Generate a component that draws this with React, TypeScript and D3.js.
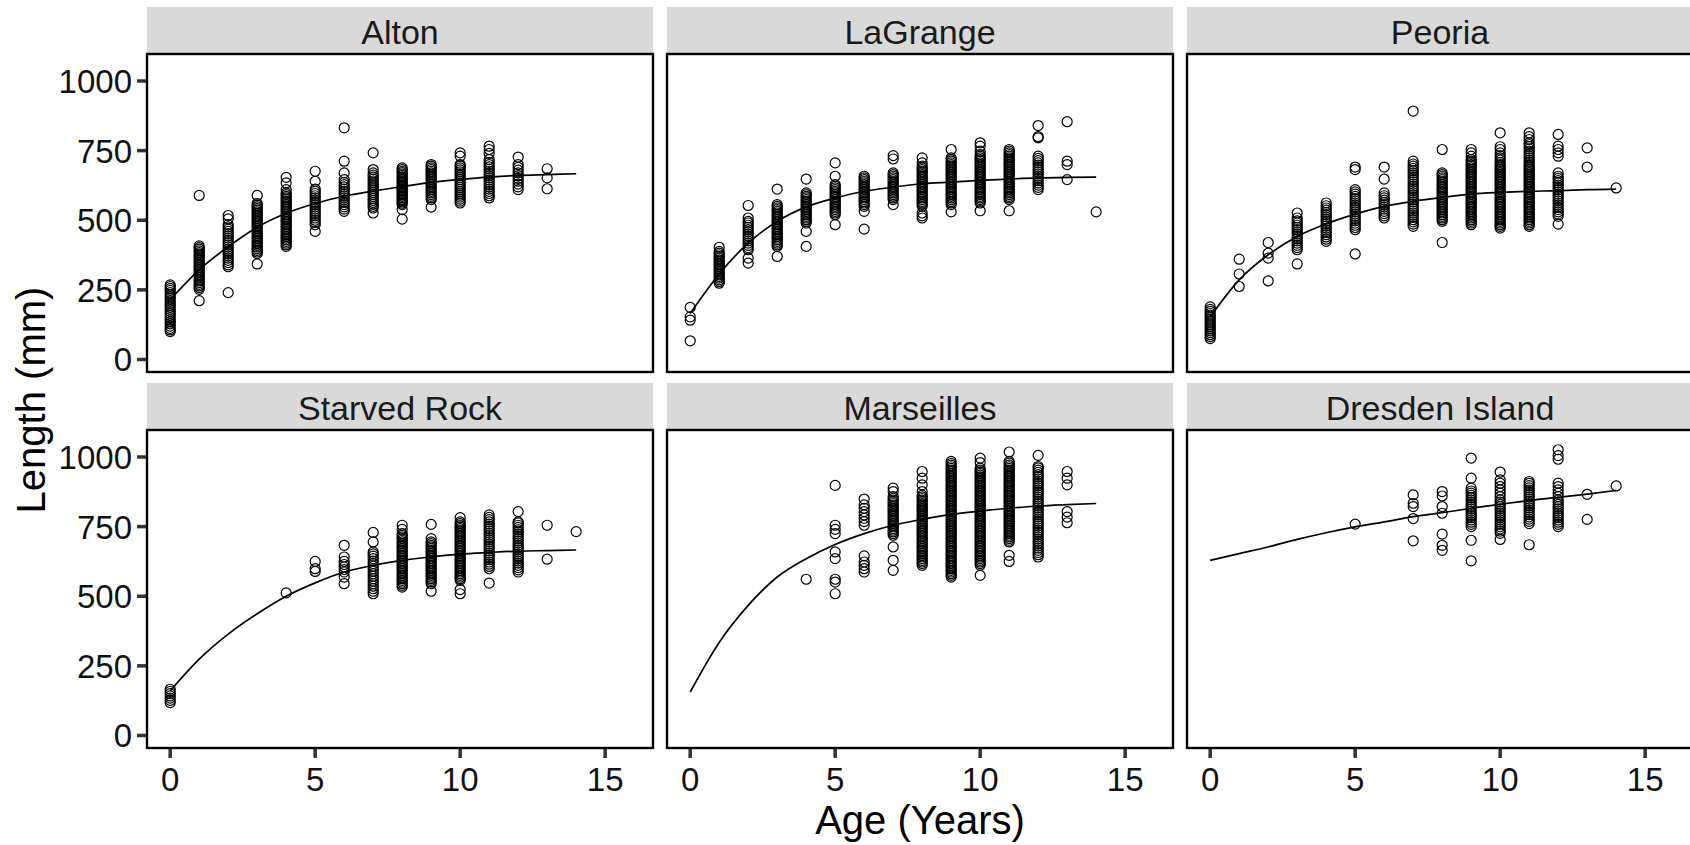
import * as d3 from 'd3';

// facet titles, in panel order (row by row)
const sites = ['Alton', 'LaGrange', 'Peoria', 'Starved Rock', 'Marseilles', 'Dresden Island'];

const xTicks = [0, 5, 10, 15];
const yTicks = [0, 250, 500, 750, 1000];

// observed lengths (mm) by age (years)
const altonObs: [number, number[]][] = [
  [0, [100, 106, 112, 120, 128, 135, 142, 150, 158, 165, 172, 180, 188, 195, 202, 210, 218, 225, 232, 240, 248, 255, 262, 268]],
  [1, [211, 252, 258, 264, 270, 276, 282, 288, 294, 300, 306, 312, 318, 324, 330, 336, 342, 348, 354, 360, 366, 372, 378, 384, 390, 396, 402, 408, 589]],
  [2, [240, 333, 340, 348, 356, 364, 372, 380, 388, 396, 404, 412, 420, 428, 436, 444, 452, 460, 468, 476, 484, 505, 517]],
  [3, [343, 380, 386, 392, 398, 404, 410, 416, 422, 428, 434, 440, 446, 452, 458, 464, 470, 476, 482, 488, 494, 500, 506, 512, 518, 524, 530, 536, 542, 548, 554, 560, 589]],
  [4, [406, 412, 418, 424, 430, 436, 442, 448, 454, 460, 466, 472, 478, 484, 490, 496, 502, 508, 514, 520, 526, 532, 538, 544, 550, 556, 562, 568, 574, 580, 586, 592, 598, 610, 634, 654]],
  [5, [460, 484, 492, 500, 508, 516, 524, 532, 540, 548, 556, 564, 572, 580, 588, 596, 604, 612, 640, 676]],
  [6, [532, 540, 548, 556, 564, 572, 580, 588, 596, 604, 612, 620, 628, 636, 646, 670, 712, 832]],
  [7, [526, 544, 550, 557, 564, 571, 578, 585, 592, 599, 606, 613, 620, 627, 634, 641, 648, 655, 662, 670, 682, 742]],
  [8, [504, 538, 556, 561, 566, 571, 576, 581, 586, 591, 596, 601, 606, 611, 616, 621, 626, 631, 636, 641, 646, 651, 656, 661, 666, 671, 676, 682, 688]],
  [9, [547, 574, 580, 586, 592, 598, 604, 610, 616, 622, 628, 634, 640, 646, 652, 658, 664, 670, 676, 682, 688, 694, 700]],
  [10, [562, 569, 576, 583, 590, 597, 604, 611, 618, 625, 632, 639, 646, 653, 660, 667, 674, 681, 688, 695, 700, 730, 742]],
  [11, [580, 588, 596, 604, 612, 620, 628, 636, 644, 652, 660, 668, 676, 684, 692, 700, 708, 718, 740, 754, 766]],
  [12, [610, 620, 630, 640, 650, 660, 670, 680, 690, 700, 727]],
  [13, [613, 652, 685]],
];

const laGrangeObs: [number, number[]][] = [
  [0, [67, 141, 153, 187]],
  [1, [274, 280, 286, 292, 298, 304, 310, 316, 322, 328, 334, 340, 346, 352, 358, 364, 370, 376, 382, 388, 403]],
  [2, [346, 364, 394, 402, 410, 418, 426, 434, 442, 450, 458, 466, 474, 482, 490, 496, 508, 553]],
  [3, [370, 406, 412, 418, 424, 430, 436, 442, 448, 454, 460, 466, 472, 478, 484, 490, 496, 502, 508, 514, 520, 526, 532, 538, 544, 550, 556, 612]],
  [4, [406, 460, 490, 496, 502, 508, 514, 520, 526, 532, 538, 544, 550, 556, 562, 568, 574, 580, 586, 592, 598, 648]],
  [5, [484, 520, 526, 532, 538, 544, 550, 556, 562, 568, 574, 580, 586, 592, 598, 604, 610, 616, 622, 628, 658, 706]],
  [6, [468, 532, 550, 556, 562, 568, 574, 580, 586, 592, 598, 604, 610, 616, 622, 628, 634, 640, 646, 652, 658]],
  [7, [556, 574, 580, 586, 592, 598, 604, 610, 616, 622, 628, 634, 640, 646, 652, 658, 664, 670, 720, 732]],
  [8, [508, 516, 526, 550, 556, 562, 568, 574, 580, 586, 592, 598, 604, 610, 616, 622, 628, 634, 640, 646, 652, 658, 664, 670, 676, 682, 688, 694, 706, 724]],
  [9, [530, 556, 562, 568, 574, 580, 586, 592, 598, 604, 610, 616, 622, 628, 634, 640, 646, 652, 658, 664, 670, 676, 682, 688, 694, 700, 706, 712, 718, 724, 754]],
  [10, [534, 562, 568, 574, 580, 586, 592, 598, 604, 610, 616, 622, 628, 634, 640, 646, 652, 658, 664, 670, 676, 682, 688, 694, 700, 706, 712, 718, 724, 730, 736, 748, 766, 778]],
  [11, [534, 574, 580, 586, 592, 598, 604, 610, 616, 622, 628, 634, 640, 646, 652, 658, 664, 670, 676, 682, 688, 694, 700, 706, 712, 718, 724, 730, 736, 742, 748, 754]],
  [12, [610, 618, 626, 634, 642, 650, 658, 666, 674, 682, 690, 698, 706, 714, 722, 730, 796, 800, 840]],
  [13, [646, 700, 712, 854]],
  [14, [530]],
];

const peoriaObs: [number, number[]][] = [
  [0, [75, 82, 89, 96, 103, 110, 117, 124, 131, 138, 145, 152, 159, 166, 173, 180, 189]],
  [1, [262, 307, 360]],
  [2, [282, 364, 382, 420]],
  [3, [343, 394, 402, 410, 418, 426, 434, 442, 450, 458, 466, 474, 482, 490, 498, 508, 526]],
  [4, [424, 432, 440, 448, 456, 464, 472, 480, 488, 496, 504, 512, 520, 528, 536, 544, 552, 562]],
  [5, [379, 466, 474, 482, 490, 498, 506, 514, 522, 530, 538, 546, 554, 562, 570, 578, 586, 594, 602, 610, 682, 691]],
  [6, [508, 516, 524, 532, 540, 548, 556, 564, 572, 580, 588, 598, 648, 691]],
  [7, [478, 486, 494, 502, 510, 518, 526, 534, 542, 550, 558, 566, 574, 582, 590, 598, 606, 614, 622, 630, 638, 646, 654, 662, 670, 678, 686, 694, 702, 712, 892]],
  [8, [420, 496, 502, 508, 514, 520, 526, 532, 538, 544, 550, 556, 562, 568, 574, 580, 586, 592, 598, 604, 610, 616, 622, 628, 634, 640, 646, 652, 658, 664, 670, 754]],
  [9, [484, 490, 496, 502, 508, 514, 520, 526, 532, 538, 544, 550, 556, 562, 568, 574, 580, 586, 592, 598, 604, 610, 616, 622, 628, 634, 640, 646, 652, 658, 664, 670, 676, 682, 688, 694, 700, 706, 712, 718, 730, 742, 754]],
  [10, [472, 478, 484, 490, 496, 502, 508, 514, 520, 526, 532, 538, 544, 550, 556, 562, 568, 574, 580, 586, 592, 598, 604, 610, 616, 622, 628, 634, 640, 646, 652, 658, 664, 670, 676, 682, 688, 694, 700, 708, 716, 724, 732, 742, 754, 764, 814]],
  [11, [478, 484, 490, 496, 502, 508, 514, 520, 526, 532, 538, 544, 550, 556, 562, 568, 574, 580, 586, 592, 598, 604, 610, 616, 622, 628, 634, 640, 646, 652, 658, 664, 670, 676, 682, 688, 694, 700, 708, 716, 724, 732, 740, 748, 756, 764, 772, 778, 790, 800, 814]],
  [12, [486, 514, 522, 530, 538, 546, 554, 562, 570, 578, 586, 594, 602, 610, 618, 626, 634, 642, 650, 658, 670, 730, 742, 754, 766, 808]],
  [13, [691, 760]],
  [14, [616]],
];

const starvedRockObs: [number, number[]][] = [
  [0, [118, 126, 134, 142, 150, 158, 166]],
  [4, [512]],
  [5, [589, 599, 625]],
  [6, [545, 569, 587, 596, 605, 614, 625, 641, 683]],
  [7, [509, 518, 527, 536, 545, 554, 563, 572, 581, 590, 599, 608, 617, 626, 635, 644, 652, 659, 695, 729]],
  [8, [533, 539, 545, 551, 557, 563, 569, 575, 581, 587, 593, 599, 605, 611, 617, 623, 629, 635, 641, 647, 653, 659, 665, 671, 677, 683, 689, 695, 701, 707, 713, 719, 725, 740, 755]],
  [9, [518, 545, 551, 557, 563, 569, 575, 581, 587, 593, 599, 605, 611, 617, 623, 629, 635, 641, 647, 653, 659, 665, 671, 677, 683, 689, 695, 707, 758]],
  [10, [509, 524, 557, 563, 569, 575, 581, 587, 593, 599, 605, 611, 617, 623, 629, 635, 641, 647, 653, 659, 665, 671, 677, 683, 689, 695, 701, 707, 713, 719, 725, 731, 737, 743, 749, 755, 761, 767, 782]],
  [11, [547, 599, 607, 615, 623, 631, 639, 647, 655, 663, 671, 679, 687, 695, 703, 711, 719, 727, 735, 743, 751, 759, 767, 775, 783, 792]],
  [12, [587, 595, 603, 611, 619, 627, 635, 643, 651, 659, 667, 675, 683, 691, 699, 707, 715, 723, 731, 739, 747, 755, 763, 767, 804]],
  [13, [633, 755]],
  [14, [732]],
];

const marseillesObs: [number, number[]][] = [
  [4, [561]],
  [5, [509, 551, 561, 635, 659, 725, 740, 755, 898]],
  [6, [587, 599, 611, 623, 645, 755, 768, 780, 792, 804, 816, 828, 849]],
  [7, [593, 629, 677, 719, 725, 731, 737, 743, 749, 755, 761, 767, 773, 779, 785, 791, 797, 803, 809, 815, 821, 827, 833, 839, 845, 851, 858, 876, 888]],
  [8, [611, 617, 623, 629, 635, 641, 647, 653, 659, 665, 671, 677, 683, 689, 695, 701, 707, 713, 719, 725, 731, 737, 743, 749, 755, 761, 767, 773, 779, 785, 791, 797, 803, 809, 815, 821, 827, 833, 839, 845, 851, 857, 863, 876, 900, 924, 948]],
  [9, [569, 575, 581, 587, 593, 599, 605, 611, 617, 623, 629, 635, 641, 647, 653, 659, 665, 671, 677, 683, 689, 695, 701, 707, 713, 719, 725, 731, 737, 743, 749, 755, 761, 767, 773, 779, 785, 791, 797, 803, 809, 815, 821, 827, 833, 839, 845, 851, 857, 863, 869, 875, 881, 887, 893, 899, 905, 911, 917, 923, 929, 935, 941, 947, 953, 959, 965, 971, 977, 984]],
  [10, [575, 611, 617, 623, 629, 635, 641, 647, 653, 659, 665, 671, 677, 683, 689, 695, 701, 707, 713, 719, 725, 731, 737, 743, 749, 755, 761, 767, 773, 779, 785, 791, 797, 803, 809, 815, 821, 827, 833, 839, 845, 851, 857, 863, 869, 875, 881, 887, 893, 899, 905, 911, 917, 923, 929, 935, 941, 947, 953, 960, 980, 996]],
  [11, [625, 647, 695, 701, 707, 713, 719, 725, 731, 737, 743, 749, 755, 761, 767, 773, 779, 785, 791, 797, 803, 809, 815, 821, 827, 833, 839, 845, 851, 857, 863, 869, 875, 881, 887, 893, 899, 905, 911, 917, 923, 929, 935, 941, 947, 953, 959, 965, 971, 978, 984, 1018]],
  [12, [641, 649, 657, 665, 673, 681, 689, 697, 705, 713, 721, 729, 737, 745, 753, 761, 769, 777, 785, 793, 801, 809, 817, 825, 833, 841, 849, 857, 865, 873, 881, 889, 897, 905, 913, 921, 929, 937, 945, 953, 961, 966, 1006]],
  [13, [764, 784, 804, 900, 924, 948]],
];

const dresdenObs: [number, number[]][] = [
  [5, [759]],
  [7, [699, 779, 822, 834, 864]],
  [8, [665, 683, 723, 798, 822, 860, 876]],
  [9, [627, 701, 750, 758, 766, 774, 782, 790, 798, 806, 814, 822, 830, 838, 846, 854, 862, 870, 878, 888, 924, 996]],
  [10, [704, 726, 734, 742, 750, 758, 766, 774, 782, 790, 798, 806, 814, 822, 830, 838, 846, 858, 870, 882, 894, 906, 918, 946]],
  [11, [685, 761, 769, 777, 785, 793, 801, 809, 817, 825, 833, 841, 849, 857, 865, 873, 881, 889, 897, 905, 912]],
  [12, [750, 758, 766, 774, 782, 790, 798, 806, 814, 822, 830, 838, 846, 858, 870, 882, 894, 906, 992, 1005, 1026]],
  [13, [776, 866]],
  [14, [896]],
];

// fitted growth curve, read at ages 0..14
const curveAges = [0, 1, 2, 3, 4, 5, 6, 7, 8, 9, 10, 11, 12, 13, 14];
const altonFit = [215, 322, 405, 475, 525, 560, 586, 605, 621, 636, 647, 655, 661, 664, 667];
const laGrangeFit = [165, 307, 418, 496, 548, 580, 604, 619, 631, 637, 643, 648, 652, 654, 655];
const peoriaFit = [153, 286, 376, 442, 487, 522, 550, 568, 582, 594, 600, 604, 606, 610, 612];
const starvedRockFit = [160, 274, 364, 437, 500, 548, 587, 611, 629, 641, 651, 657, 662, 664, 666];
const marseillesFit = [156, 334, 467, 569, 635, 686, 725, 755, 776, 794, 806, 816, 824, 829, 833];
const dresdenFit = [629, 653, 677, 704, 728, 749, 767, 786, 800, 816, 830, 844, 855, 867, 880];

const observations = [altonObs, laGrangeObs, peoriaObs, starvedRockObs, marseillesObs, dresdenObs];
const fits = [altonFit, laGrangeFit, peoriaFit, starvedRockFit, marseillesFit, dresdenFit];

const W = 1690;
const H = 845;
const colLeft = [147, 667, 1187];
const panelW = 506;
const rowTop = [54, 430];
const panelH = 318;
const stripH = 47;
const font = '"Liberation Sans", Arial, Helvetica, sans-serif';

export default function App() {
  const x = d3.scaleLinear().domain([-0.8, 16.65]).range([0, panelW]);
  const y = d3.scaleLinear().domain([-45, 1097]).range([panelH, 0]);
  const line = d3
    .line<number>()
    .x((_, i) => x(curveAges[i]))
    .y((d) => y(d))
    .curve(d3.curveMonotoneX);

  return (
    <svg
      width={W}
      height={H}
      style={{ position: 'absolute', left: 0, top: 0, display: 'block', background: '#fff' }}
      fontFamily={font}
    >
      {sites.map((site, k) => {
        const row = Math.floor(k / 3);
        const col = k % 3;
        const left = colLeft[col];
        const top = rowTop[row];
        return (
          <g key={site}>
            <rect x={left} y={top - stripH} width={panelW} height={stripH} fill="#d9d9d9" />
            <text
              x={left + panelW / 2}
              y={top - 10}
              textAnchor="middle"
              fontSize={34}
              fill="#1a1a1a"
            >
              {site}
            </text>
            <g transform={`translate(${left},${top})`}>
              {observations[k].flatMap(([age, lens]) =>
                lens.map((len, j) => (
                  <circle
                    key={`${age}-${j}`}
                    cx={x(age)}
                    cy={y(len)}
                    r={5}
                    fill="none"
                    stroke="#000"
                    strokeWidth={1.2}
                  />
                ))
              )}
              <path d={line(fits[k]) ?? ''} fill="none" stroke="#000" strokeWidth={1.7} />
              <rect
                x={0}
                y={0}
                width={panelW}
                height={panelH}
                fill="none"
                stroke="#000"
                strokeWidth={2.4}
              />
              {col === 0 &&
                yTicks.map((t) => (
                  <g key={`y${t}`}>
                    <line x1={-10} x2={-1} y1={y(t)} y2={y(t)} stroke="#333" strokeWidth={3.5} />
                    <text x={-15} y={y(t)} dy="0.36em" textAnchor="end" fontSize={33} fill="#111">
                      {t}
                    </text>
                  </g>
                ))}
              {row === 1 &&
                xTicks.map((t) => (
                  <g key={`x${t}`}>
                    <line
                      x1={x(t)}
                      x2={x(t)}
                      y1={panelH + 1}
                      y2={panelH + 10}
                      stroke="#333"
                      strokeWidth={3.5}
                    />
                    <text x={x(t)} y={panelH + 43} textAnchor="middle" fontSize={33} fill="#111">
                      {t}
                    </text>
                  </g>
                ))}
            </g>
          </g>
        );
      })}
      <text x={920} y={834} textAnchor="middle" fontSize={40} fill="#000">
        Age (Years)
      </text>
      <text
        transform="translate(45,400) rotate(-90)"
        textAnchor="middle"
        fontSize={40}
        fill="#000"
      >
        Length (mm)
      </text>
    </svg>
  );
}
